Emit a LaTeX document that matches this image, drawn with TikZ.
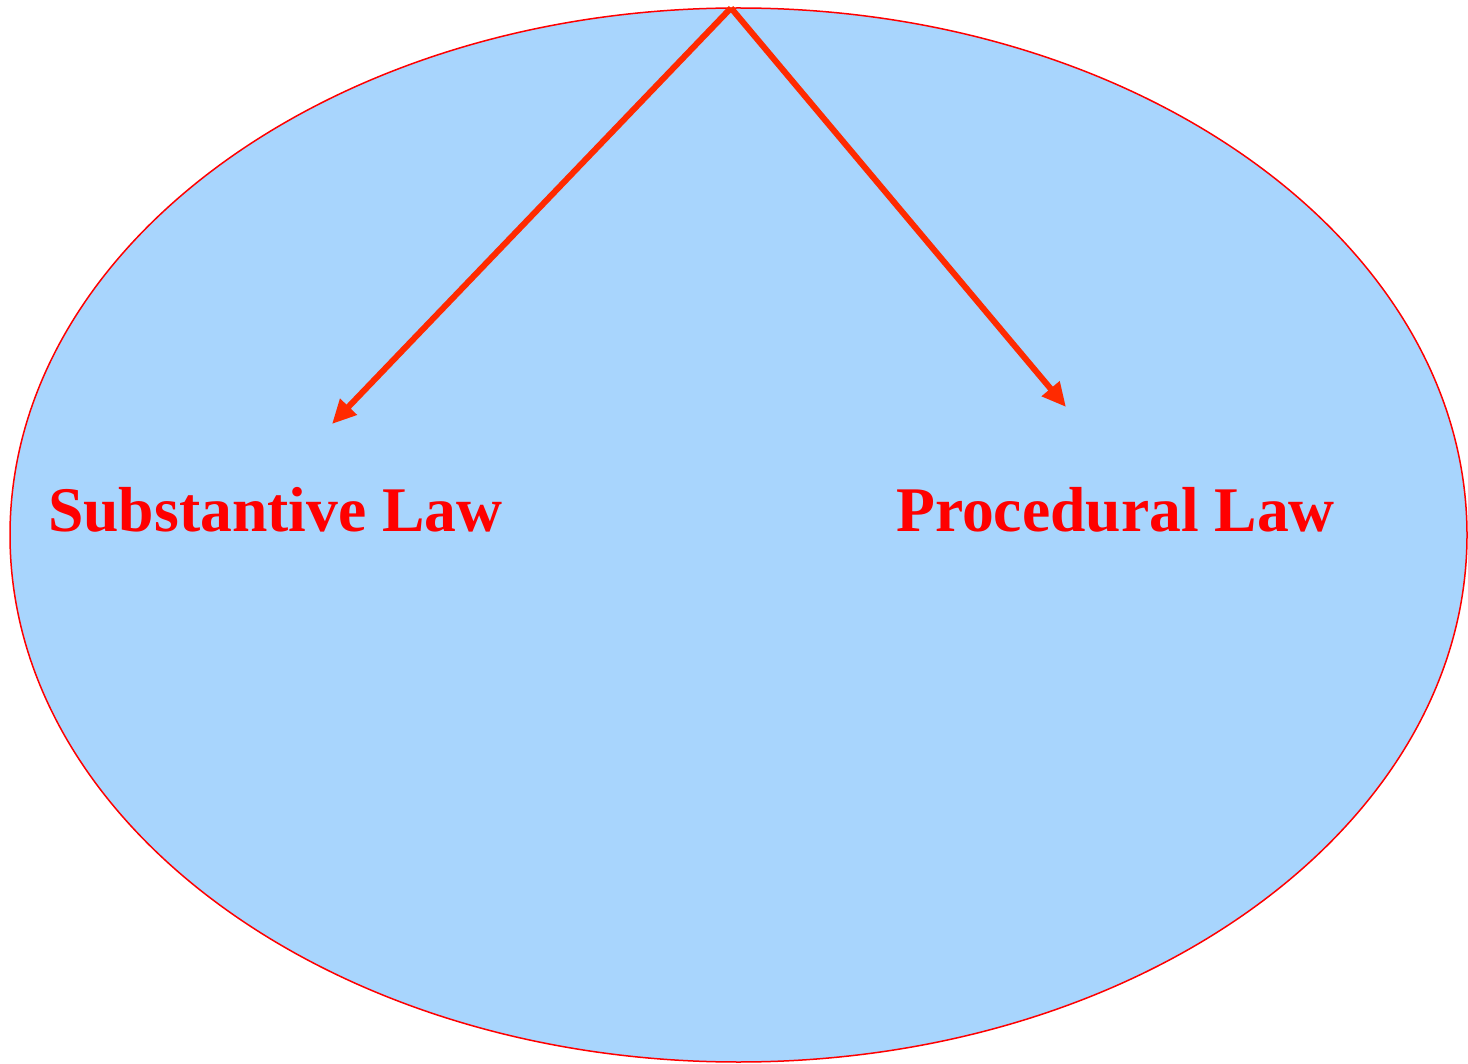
\documentclass[tikz,border=0pt]{standalone}
\usepackage{fontspec}
\setmainfont{Liberation Serif}
\usetikzlibrary{arrows.meta,shapes.geometric}
\definecolor{fillblue}{HTML}{A8D5FD}
\definecolor{arrowred}{HTML}{FF2A00}
\definecolor{textred}{HTML}{FF0000}
\tikzset{
  lbl/.style={anchor=base west, inner sep=0pt, text=textred, font=\fontsize{63.6}{70}\selectfont\bfseries},
  conn/.style={draw=arrowred, line width=6pt, -{Triangle[length=24pt,width=22pt]}},
}
\begin{document}
\begin{tikzpicture}[x=1pt,y=-1pt]
\useasboundingbox (0,0) rectangle (1468,1064);
\node[ellipse, draw=red, line width=1.5pt, fill=fillblue, minimum width=1457pt, minimum height=1054pt, inner sep=0pt] (oval) at (738.5,535) {};
\coordinate (top) at (731,8);
\coordinate (tipL) at (332,424);
\coordinate (tipR) at (1066,407);
\node[lbl] (subst) at (48,531) {Substantive Law};
\node[lbl] (proc) at (896,531) {Procedural Law};
\draw[conn] (top) -- (tipL);
\draw[conn] (top) -- (tipR);
\end{tikzpicture}
\end{document}
